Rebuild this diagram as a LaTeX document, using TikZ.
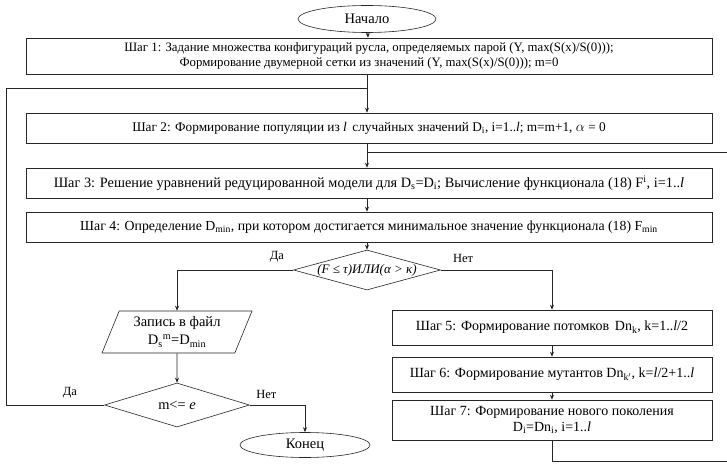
\documentclass[tikz,border=0pt]{standalone}
\usepackage{fontspec}
\setmainfont{Liberation Serif}
\usetikzlibrary{arrows.meta,shapes.geometric}
\begin{document}
\begin{tikzpicture}[x=1pt,y=-1pt,
  line/.style={draw=black!85,line width=0.6pt},
  arr/.style={line,-{Stealth[length=5pt,width=4pt]}},
  stepbox/.style={line,rectangle,inner sep=1pt,align=center,font=\fontsize{14}{16}\selectfont},
  term/.style={line,ellipse,inner sep=0pt,font=\fontsize{14.5}{16}\selectfont},
  decision/.style={line,diamond,inner sep=0pt,font=\fontsize{13}{15}\selectfont},
  io/.style={line,trapezium,trapezium left angle=62,trapezium right angle=118,trapezium stretches body,inner sep=1pt,align=center,font=\fontsize{14.5}{18}\selectfont},
  lbl/.style={font=\fontsize{12.5}{14}\selectfont}]
\useasboundingbox (0,0) rectangle (727,470);
\fill[white] (0,0) rectangle (727,470);

\node[term,minimum width=138,minimum height=27] (start) at (367,19) {Начало};
\node[stepbox,minimum width=686,minimum height=36,font=\fontsize{12.8}{15}\selectfont] (s1) at (369,56)
  {Шаг 1: Задание множества конфигураций русла, определяемых парой (Y, max(S(x)/S(0)));\\
   Формирование двумерной сетки из значений (Y, max(S(x)/S(0))); m=0};
\node[stepbox,minimum width=686,minimum height=30,font=\fontsize{13.3}{15}\selectfont] (s2) at (369,128)
  {Шаг 2: Формирование популяции из \textit{l}\, случайных значений D$_\mathrm{i}$, i=1..\textit{l}; m=m+1, $\alpha$ = 0};
\node[stepbox,minimum width=686,minimum height=30,font=\fontsize{14.3}{16}\selectfont] (s3) at (369,183)
  {Шаг 3: Решение уравнений редуцированной модели для D$_\mathrm{s}$=D$_\mathrm{i}$; Вычисление функционала (18) F$^\mathrm{i}$, i=1..\textit{l}};
\node[stepbox,minimum width=686,minimum height=30,font=\fontsize{13.8}{16}\selectfont] (s4) at (369,227)
  {Шаг 4: Определение D$_\mathrm{min}$, при котором достигается минимальное значение функционала (18) F$_\mathrm{min}$};
\node[decision,minimum width=147,minimum height=40,aspect=3.6] (d1) at (367,270)
  {\textit{(F ≤ τ)ИЛИ(α > κ)}};
\node[io,minimum width=150,minimum height=42] (out) at (177,332)
  {Запись в файл\\D$_\mathrm{s}$$^\mathrm{m}$=D$_\mathrm{min}$};
\node[decision,minimum width=145,minimum height=44,aspect=3.3,font=\fontsize{14.4}{16}\selectfont] (d2) at (177,405)
  {m<= \textit{e}};
\node[term,minimum width=130,minimum height=25] (end) at (305,445) {Конец};
\node[stepbox,minimum width=320,minimum height=35] (s5) at (552,327.5)
  {Шаг 5: Формирование потомков\, Dn$_\mathrm{k}$, k=1..\textit{l}/2};
\node[stepbox,minimum width=320,minimum height=35] (s6) at (552,374.5)
  {Шаг 6: Формирование мутантов Dn$_\mathrm{k'}$, k=\textit{l}/2+1..\textit{l}};
\node[stepbox,minimum width=320,minimum height=40] (s7) at (552,420)
  {Шаг 7: Формирование нового поколения\\D$_\mathrm{i}$=Dn$_\mathrm{i}$, i=1..\textit{l}};

\coordinate (j1) at (367,88);
\coordinate (j2) at (367,152);
\coordinate (lt) at (6,88);
\coordinate (lb) at (6,405);
\coordinate (rb) at (552,461);
\coordinate (rc) at (745,461);
\coordinate (rt) at (745,152);

\draw[arr] (start) -- (s1);
\draw[arr] (s1.south -| start) -- (s2.north -| start);
\draw[arr] (s2.south -| start) -- (s3.north -| start);
\draw[arr] (s3.south -| start) -- (s4.north -| start);
\draw[arr] (s4.south -| d1) -- (d1.north);
\draw[arr] (d1.west) -| node[lbl,pos=0.07,above=4pt] {Да} (out.north);
\draw[arr] (d1.east) -| node[lbl,pos=0.1,above=4pt] {Нет} (s5.north);
\draw[arr] (out.south) -- (d2.north);
\draw[arr] (d2.east) -| node[lbl,pos=0.15,above=3pt] {Нет} (end.north);
\draw[line] (d2.west) -- node[lbl,pos=0.35,above=3pt] {Да} (lb) -- (lt) -- (j1);
\draw[arr] (s5) -- (s6);
\draw[arr] (s6) -- (s7);
\draw[line] (s7.south) -- (rb) -- (rc) -- (rt) -- (j2);
\end{tikzpicture}
\end{document}
